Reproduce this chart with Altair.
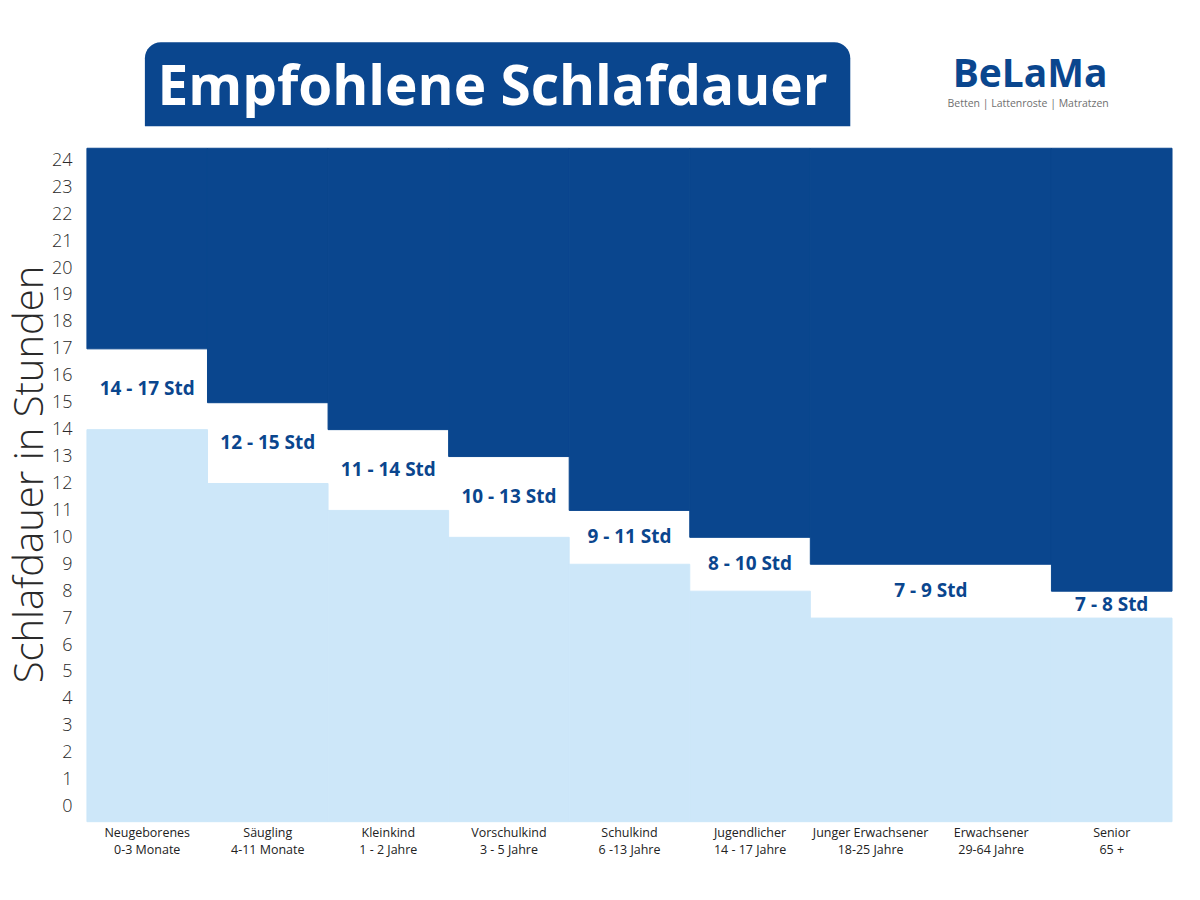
import altair as alt
import pandas as pd

# ---- data ----
categories = ["Neugeborenes", "Säugling", "Kleinkind", "Vorschulkind", "Schulkind",
              "Jugendlicher", "Junger Erwachsener", "Erwachsener", "Senior"]
age_ranges = ["0-3 Monate", "4-11 Monate", "1 - 2 Jahre", "3 - 5 Jahre", "6 -13 Jahre",
              "14 - 17 Jahre", "18-25 Jahre", "29-64 Jahre", "65 +"]

band_start = [0, 1, 2, 3, 4, 5, 6, 8]   # category index where a recommendation band starts
band_end = [1, 2, 3, 4, 5, 6, 8, 9]     # category index where it ends
min_hours = [14, 12, 11, 10, 9, 8, 7, 7]
max_hours = [17, 15, 14, 13, 11, 10, 9, 8]

y_ticks = list(range(0, 25))
Y_MIN, Y_MAX = -0.56, 24.45

DARK = "#0a468e"
LIGHT = "#cde7f9"
TEXT = "#2a2a2a"

bands = pd.DataFrame({
    "x0": band_start, "x1": band_end,
    "lo": min_hours, "hi": max_hours,
})
bands["floor"] = Y_MIN
bands["ceil"] = Y_MAX
bands["xc"] = (bands["x0"] + bands["x1"]) / 2
bands["mid"] = (bands["lo"] + bands["hi"]) / 2
bands["label"] = [f"{a} - {b} Std" for a, b in zip(min_hours, max_hours)]

cats = pd.DataFrame({
    "pos": [i + 0.5 for i in range(len(categories))],
    "txt": [f"{c}\n{a}" for c, a in zip(categories, age_ranges)],
})

W, H = 1086, 674
xs = alt.Scale(domain=[0, 9], nice=False, zero=False)
ys = alt.Scale(domain=[Y_MIN, Y_MAX], nice=False, zero=False)

yaxis = alt.Axis(
    values=y_ticks, title="Schlafdauer in Stunden", domain=False, ticks=False,
    grid=False, labelFontSize=18, labelColor=TEXT, labelFont="Open Sans",
    labelFontWeight=300, labelOverlap=False, labelFlush=False, labelPadding=15,
    titleFont="Open Sans", titleFontSize=40, titleFontWeight=300, titleColor=TEXT,
    titleAngle=-90, titleAlign="center", titleBaseline="alphabetic",
    titleX=-44, titleY=326)

base = alt.Chart(bands)

light = base.mark_rect(color=LIGHT, stroke=LIGHT, strokeWidth=1).encode(
    x=alt.X("x0:Q", scale=xs, axis=None),
    x2="x1:Q",
    y=alt.Y("floor:Q", scale=ys, axis=yaxis),
    y2="lo:Q",
)

dark = base.mark_rect(color=DARK, stroke=DARK, strokeWidth=1).encode(
    x=alt.X("x0:Q", scale=xs, axis=None),
    x2="x1:Q",
    y=alt.Y("hi:Q", scale=ys, axis=yaxis),
    y2="ceil:Q",
)

band_labels = base.mark_text(font="Open Sans", fontWeight="bold", fontSize=19,
                             color=DARK, align="center", baseline="middle").encode(
    x=alt.X("xc:Q", scale=xs, axis=None),
    y=alt.Y("mid:Q", scale=ys, axis=yaxis),
    text="label:N",
)

cat_labels = alt.Chart(cats).mark_text(font="Open Sans", fontSize=12.5, color="#222222",
                                       align="center", baseline="top",
                                       lineBreak="\n", lineHeight=17).encode(
    x=alt.X("pos:Q", scale=xs, axis=None),
    y=alt.value(679),
    text="txt:N",
)

# header decorations
title_box = alt.Chart(pd.DataFrame({"a": [0]})).mark_rect(
    color=DARK, cornerRadiusTopLeft=16, cornerRadiusTopRight=16).encode(
    x=alt.value(58), x2=alt.value(764), y=alt.value(-106), y2=alt.value(-22))

title_txt = alt.Chart(pd.DataFrame({"t": ["Empfohlene Schlafdauer"]})).mark_text(
    font="Open Sans", fontWeight="bold", fontSize=55, color="white",
    align="center", baseline="alphabetic").encode(
    x=alt.value(406), y=alt.value(-43), text="t:N")

logo = alt.Chart(pd.DataFrame({"t": ["BeLaMa"]})).mark_text(
    font="Open Sans", fontWeight="bold", fontSize=39, color=DARK,
    align="center", baseline="alphabetic").encode(
    x=alt.value(944), y=alt.value(-61), text="t:N")

logo_sub = alt.Chart(pd.DataFrame({"t": ["Betten | Lattenroste | Matratzen"]})).mark_text(
    font="Open Sans", fontSize=10.5, color="#707070",
    align="center", baseline="middle").encode(
    x=alt.value(942), y=alt.value(-44), text="t:N")

chart = alt.layer(light, dark, band_labels, cat_labels, title_box, title_txt, logo, logo_sub).properties(
    width=W, height=H,
    autosize=alt.AutoSizeParams(type="none"),
    padding={"left": 79, "top": 140, "right": 20, "bottom": 60},
    background="white",
).configure_view(stroke=None)

chart.save("out.html", embed_options={"renderer": "svg", "actions": False})
